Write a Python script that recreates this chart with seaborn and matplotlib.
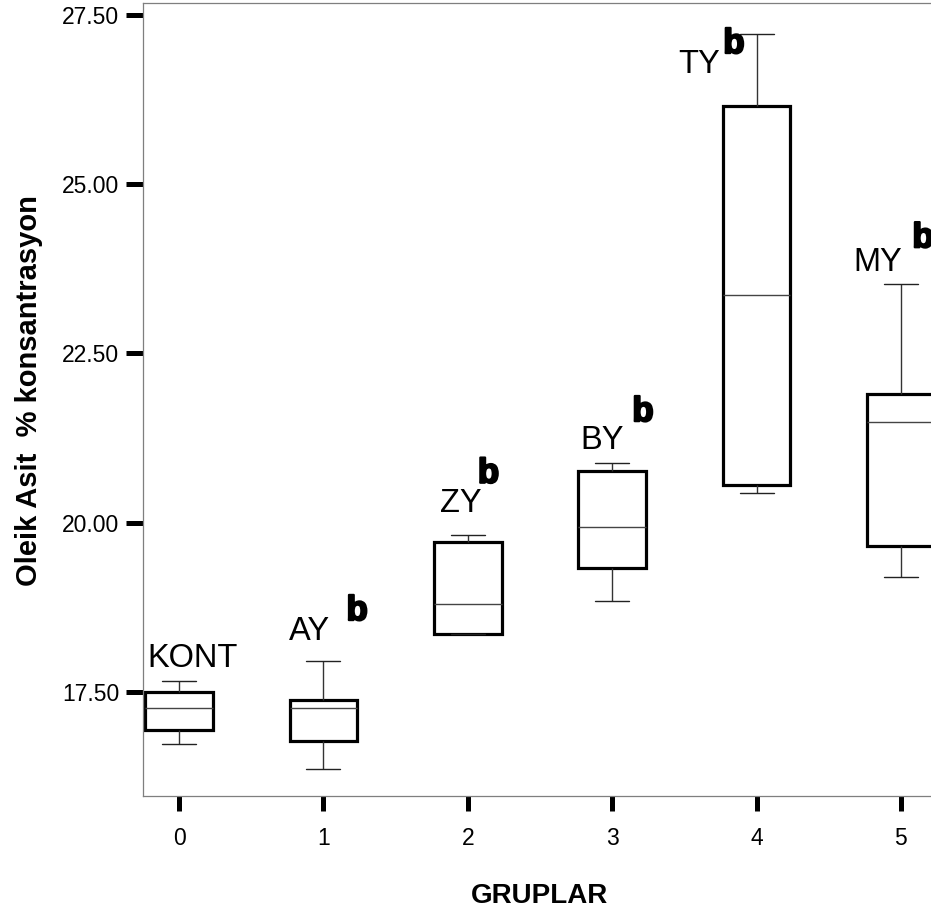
import numpy as np
import pandas as pd
import matplotlib
matplotlib.use("Agg")
import matplotlib.pyplot as plt
import matplotlib.patheffects as pe
import seaborn as sns

# values: min, Q1, median, Q3, max per group
groups = ["0", "1", "2", "3", "4", "5"]
g0_kont = [16.73, 16.94, 17.26, 17.49, 17.66]
g1_ay = [16.36, 16.77, 17.26, 17.38, 17.95]
g2_zy = [18.35, 18.35, 18.80, 19.71, 19.82]
g3_by = [18.84, 19.33, 19.94, 20.76, 20.88]
g4_ty = [20.44, 20.56, 23.36, 26.16, 27.22]
g5_my = [19.20, 19.66, 21.49, 21.90, 23.53]

group_names = ["KONT", "AY", "ZY", "BY", "TY", "MY"]
# annotation anchors (data coords): name label and significance letter
name_pos = [(-0.22, 17.87), (0.76, 18.27), (1.81, 20.16), (2.78, 21.09), (3.46, 26.65), (4.67, 23.72)]
sig_letters = [None, "b", "b", "b", "b", "b"]
sig_pos = [None, (1.16, 18.56), (2.07, 20.59), (3.14, 21.50), (3.77, 26.94), (5.08, 24.07)]

yticks = [17.5, 20.0, 22.5, 25.0, 27.5]

all_vals = [g0_kont, g1_ay, g2_zy, g3_by, g4_ty, g5_my]
df = pd.DataFrame({
    "grup": np.repeat(groups, [len(v) for v in all_vals]),
    "deger": np.concatenate(all_vals),
})

sns.set_theme(style="white")
plt.rcParams["font.family"] = ["Liberation Sans", "DejaVu Sans"]
plt.rcParams["text.color"] = "black"
plt.rcParams["axes.labelcolor"] = "black"
plt.rcParams["xtick.color"] = "black"
plt.rcParams["ytick.color"] = "black"

fig = plt.figure(figsize=(9.31, 9.17), dpi=100)
ax = fig.add_axes([143 / 931, 121 / 917, 794 / 931, 793 / 917])

sns.boxplot(data=df, x="grup", y="deger", order=groups, ax=ax,
            width=0.47, color="white", linecolor="black", whis=1.5,
            boxprops=dict(linewidth=2.3, edgecolor="black", facecolor="white"),
            whiskerprops=dict(linewidth=1.0, color="#333333"),
            capprops=dict(linewidth=1.0, color="#222222"),
            medianprops=dict(linewidth=1.0, color="#444444"))

ax.set_xlim(-0.25, 5.25)
ax.set_ylim(15.96, 27.68)
ax.set_yticks(yticks)
ax.set_yticklabels([f"{v:.2f}" for v in yticks])

for side in ["left", "top", "bottom", "right"]:
    ax.spines[side].set_color("#7f7f7f")
    ax.spines[side].set_linewidth(0.9)

ax.tick_params(axis="y", which="major", direction="out", length=12, width=3.6,
               color="black", labelcolor="black", pad=5, labelsize=16.5, left=True)
ax.tick_params(axis="x", which="major", direction="out", length=11, width=3.6,
               color="black", labelcolor="black", pad=11, labelsize=16.5, bottom=True)

ax.set_xlabel("GRUPLAR", fontsize=20, fontweight="bold", labelpad=24, color="black")
ax.set_ylabel("Oleik Asit  % konsantrasyon", fontsize=21, fontweight="bold", color="black")
ax.yaxis.set_label_coords(-0.126, 0.511)

for name, (x, y) in zip(group_names, name_pos):
    ax.text(x, y, name, fontsize=23.5, ha="left", va="baseline", color="black")
for letter, pos in zip(sig_letters, sig_pos):
    if letter:
        ax.text(pos[0], pos[1], letter, fontsize=25, fontweight="heavy",
                ha="left", va="baseline", color="black", clip_on=False,
                path_effects=[pe.withStroke(linewidth=1.6, foreground="black")])

fig.savefig("out.png", dpi=100)
